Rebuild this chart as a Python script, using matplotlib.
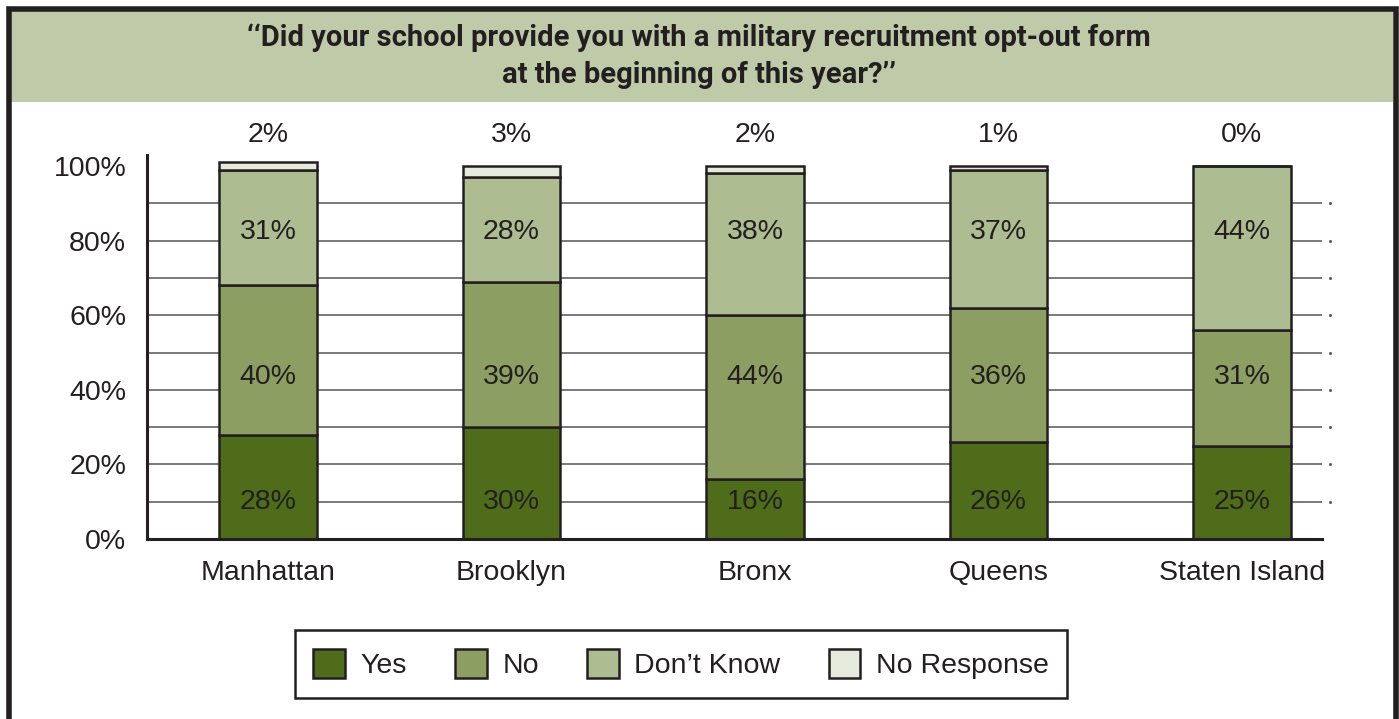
import numpy as np
import matplotlib.pyplot as plt
from matplotlib.patches import Rectangle, Patch

W, H = 1399, 719

boroughs = ['Manhattan', 'Brooklyn', 'Bronx', 'Queens', 'Staten Island']
yes = [28, 30, 16, 26, 25]
no = [40, 39, 44, 36, 31]
dont_know = [31, 28, 38, 37, 44]
no_response = [2, 3, 2, 1, 0]

series_names = ['Yes', 'No', 'Don\u2019t Know', 'No Response']
colors = ['#4e6c1a', '#8c9e62', '#adbd91', '#e6eadc']
y_ticks = [0, 20, 40, 60, 80, 100]

title1 = '\u2018\u2018Did your school provide you with a military recruitment opt-out form'
title2 = 'at the beginning of this year?\u2019\u2019'

ink = '#231f20'
plt.rcParams['font.family'] = ['Liberation Sans', 'DejaVu Sans']

fig = plt.figure(figsize=(W / 100, H / 100), dpi=100)
fig.patch.set_facecolor('white')

def fx(x):
    return x / W

def fy(y):
    return 1 - y / H

# header band and outer frame
fig.add_artist(Rectangle((fx(10), fy(102)), fx(1393) - fx(10), fy(10) - fy(102),
                         transform=fig.transFigure, facecolor='#bfcba8', edgecolor='none', zorder=0))
fig.add_artist(Rectangle((fx(8.5), fy(740)), fx(1396) - fx(8.5), fy(8.5) - fy(740),
                         transform=fig.transFigure, facecolor='none', edgecolor=ink, lw=4, zorder=5))

title_font = ['Roboto', 'DejaVu Sans']
fig.text(fx(699), fy(38), title1, ha='center', va='center', fontsize=21, fontweight='bold',
         color=ink, family=title_font)
fig.text(fx(699), fy(75), title2, ha='center', va='center', fontsize=21, fontweight='bold',
         color=ink, family=title_font)

ax = fig.add_axes([fx(147), fy(539), fx(1322) - fx(147), fy(155) - fy(539)])
ax.set_facecolor('none')
x = np.arange(len(boroughs))
ax.set_xlim(-0.497, 4.329)
ax.set_ylim(0, (539 - 155) / 3.73)

for v in range(10, 100, 10):
    ax.axhline(v, color='#555555', lw=1.1, zorder=1)
ax.plot([4.361] * 9, list(range(10, 100, 10)), ls='none', marker='s', ms=1,
        color='#555555', clip_on=False)

bottom = np.zeros(len(boroughs))
for vals, c in zip([yes, no, dont_know, no_response], colors):
    ax.bar(x, vals, width=0.40, bottom=bottom, color=c, edgecolor=ink, linewidth=1.8, zorder=3)
    bottom += np.array(vals)

# value labels sit at fixed heights inside the bars
label_y = [10, 43.5, 82.3]
for vals, ly in zip([yes, no, dont_know], label_y):
    for i, v in enumerate(vals):
        ax.text(i, ly, f'{v}%', ha='center', va='center', fontsize=20.5, color=ink, zorder=4)
for i, v in enumerate(no_response):
    ax.text(i, 108.3, f'{v}%', ha='center', va='center', fontsize=20.5, color=ink)

for s in ['top', 'right']:
    ax.spines[s].set_visible(False)
for s in ['left', 'bottom']:
    ax.spines[s].set_linewidth(2.2)
    ax.spines[s].set_color(ink)
    ax.spines[s].set_zorder(5)

ax.set_yticks(y_ticks)
ax.set_yticklabels([f'{v}%' for v in y_ticks], fontsize=20.5, color=ink)
ax.set_xticks(x)
ax.set_xticklabels(boroughs, fontsize=20.5, color=ink)
ax.tick_params(axis='y', length=0, pad=15)
ax.tick_params(axis='x', length=0, pad=15)

handles = [Patch(facecolor=c, edgecolor=ink, linewidth=1.8) for c in colors]
leg = fig.legend(handles, series_names, loc='center', bbox_to_anchor=(fx(681), fy(664)),
                 ncol=4, frameon=True, fancybox=False, edgecolor=ink, framealpha=1,
                 fontsize=20.5, handlelength=1.1, handleheight=1.2, handletextpad=0.55,
                 columnspacing=1.7, borderpad=0.65)
leg.get_frame().set_linewidth(1.8)
for t in leg.get_texts():
    t.set_color(ink)

fig.savefig('out.png', dpi=100)
